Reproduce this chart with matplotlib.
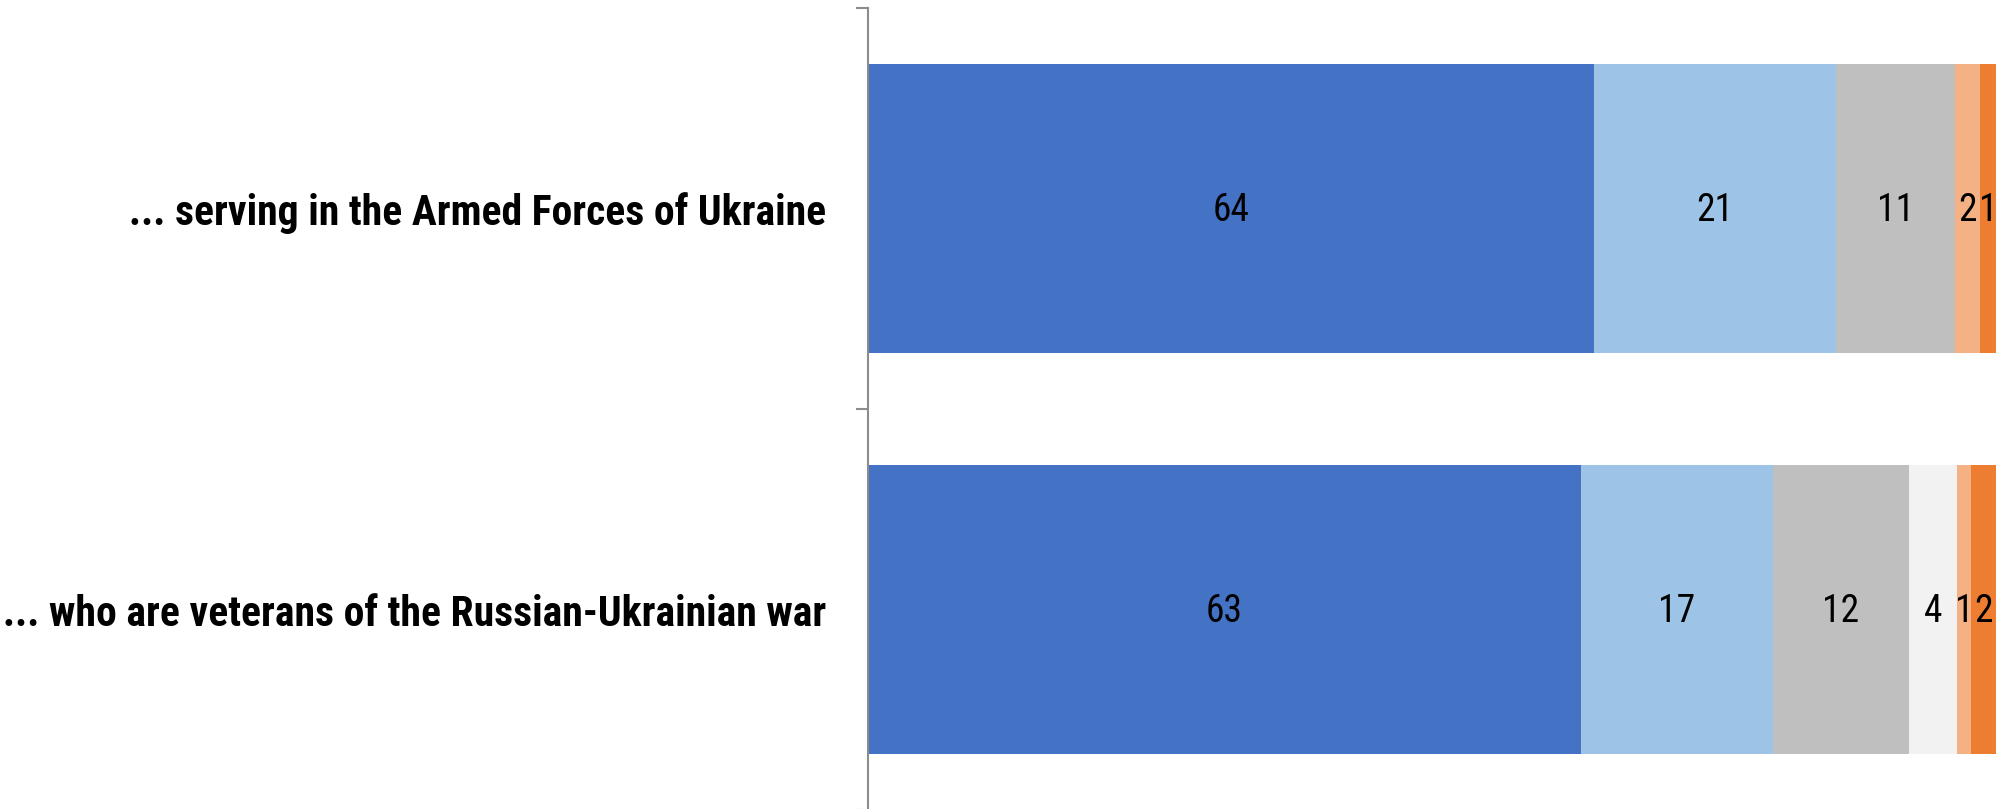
import matplotlib
matplotlib.use("Agg")
import matplotlib.pyplot as plt
from matplotlib import font_manager

categories = ["... serving in the Armed Forces of Ukraine",
              "... who are veterans of the Russian-Ukrainian war"]
series_colors = ["#4472C4", "#9DC3E6", "#BFBFBF", "#F2F2F2", "#F4B183", "#ED7D31"]
s1 = [64.4, 63.2]
s2 = [21.4, 17.0]
s3 = [10.6, 12.1]
s4 = [0.0, 4.2]
s5 = [2.2, 1.3]
s6 = [1.4, 2.2]
series = [s1, s2, s3, s4, s5, s6]

names = {f.name for f in font_manager.fontManager.ttflist}
prefs = ["Liberation Sans Narrow", "Arial Narrow", "Roboto Condensed", "Archivo Narrow",
         "PT Sans Narrow", "Open Sans Condensed", "Barlow Semi Condensed", "Liberation Sans", "DejaVu Sans"]
fam = [n for n in prefs if n in names]
plt.rcParams['font.family'] = fam[:1] + ["DejaVu Sans"]

fig = plt.figure(figsize=(20.09, 8.09), dpi=100)
ax = fig.add_axes([868/2009, -1/809, 1128/2009, 802/809])

y = list(range(len(categories)))
left = [0.0] * len(categories)
for vals, col in zip(series, series_colors):
    ax.barh(y, vals, left=left, height=0.72, color=col, edgecolor='none')
    for yi, (l, v) in enumerate(zip(left, vals)):
        if v > 0:
            ax.text(l + v / 2, yi + 0.005, f"{round(v):d}", ha='center', va='center',
                    fontsize=27, color='black')
    left = [a + b for a, b in zip(left, vals)]

ax.set_xlim(0, 100)
ax.set_ylim(1.5, -0.5)
ax.set_yticks([-0.5, 0.5, 1.5])
ax.set_yticklabels([])
ax.set_yticks(y, minor=True)
ax.set_yticklabels(categories, minor=True, fontsize=30, fontweight='bold')
ax.tick_params(axis='y', which='major', length=9, width=1.5, color='#8C8C8C', direction='out')
ax.tick_params(axis='y', which='minor', length=0, pad=30)
ax.set_xticks([])
for s in ['top', 'right', 'bottom']:
    ax.spines[s].set_visible(False)
ax.spines['left'].set_color('#8C8C8C')
ax.spines['left'].set_linewidth(1.5)

fig.savefig("out.png", dpi=100)
